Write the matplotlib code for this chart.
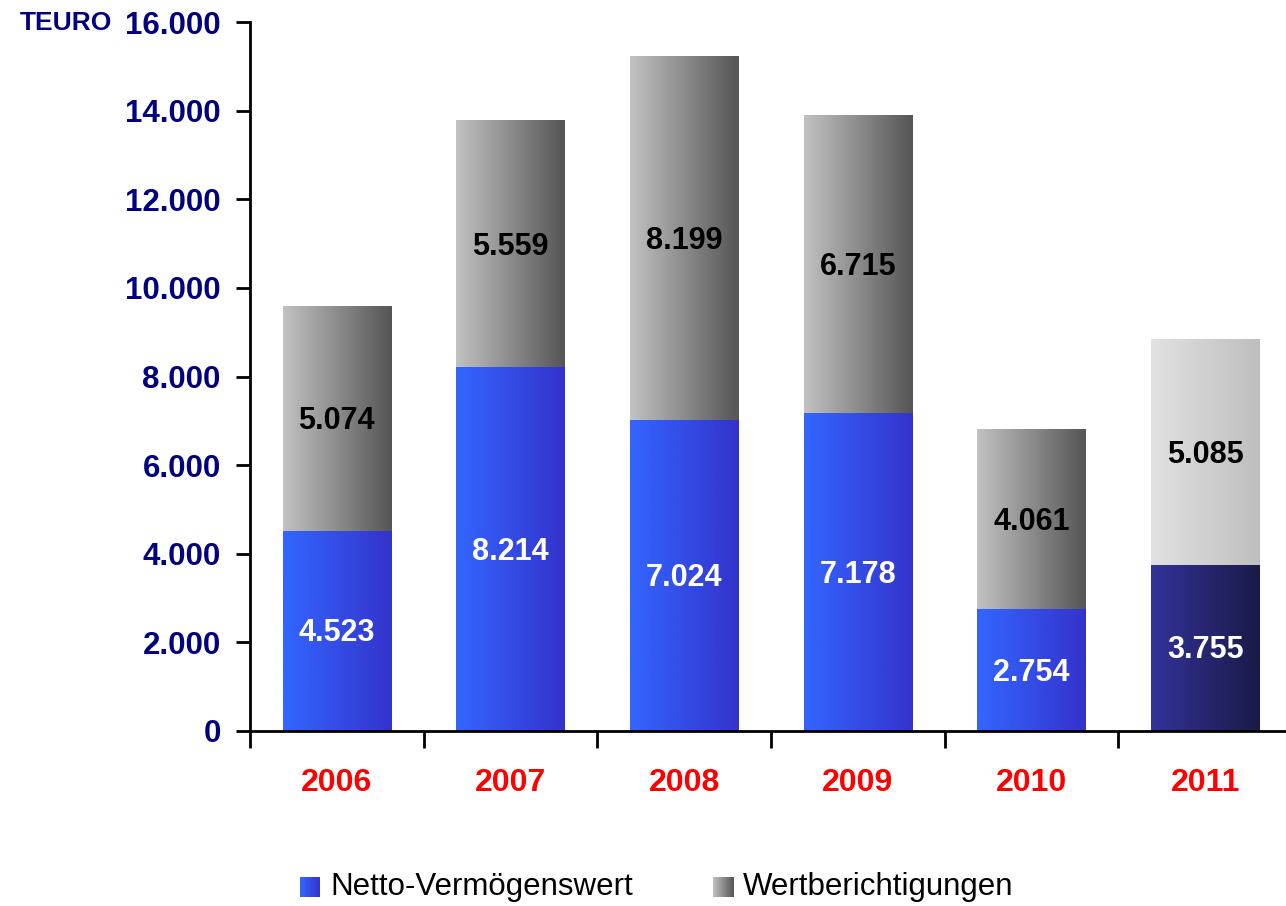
import numpy as np
import matplotlib
matplotlib.use("Agg")
import matplotlib.pyplot as plt
from matplotlib.colors import LinearSegmentedColormap

years = ["2006", "2007", "2008", "2009", "2010", "2011"]
netto = [4523, 8214, 7024, 7178, 2754, 3755]
wertb = [5074, 5559, 8199, 6715, 4061, 5085]
yticks = [0, 2000, 4000, 6000, 8000, 10000, 12000, 14000, 16000]
ytick_labels = ["0", "2.000", "4.000", "6.000", "8.000", "10.000", "12.000", "14.000", "16.000"]

NAVY = "#000080"
FONT = ["Liberation Sans", "DejaVu Sans"]

blue = LinearSegmentedColormap.from_list("blue", ["#3366FF", "#3333CC"])
gray = LinearSegmentedColormap.from_list("gray", ["#C2C2C2", "#555555"])
navy = LinearSegmentedColormap.from_list("navy", ["#333399", "#1A1A48"])
lgray = LinearSegmentedColormap.from_list("lgray", ["#E2E2E2", "#BEBEBE"])
grad = np.linspace(0, 1, 256).reshape(1, -1)


def fmt(v):
    return f"{v:,}".replace(",", ".")


fig = plt.figure(figsize=(12.86, 9.06), dpi=100)
ax = fig.add_axes([250 / 1286, 1 - 731 / 906, 1042 / 1286, 709 / 906])

width = 108 / 173.6
for i, (n, w) in enumerate(zip(netto, wertb)):
    x0, x1 = i - width / 2, i + width / 2
    cb, cg = (navy, lgray) if i == 5 else (blue, gray)
    ax.imshow(grad, cmap=cb, extent=[x0, x1, 0, n], aspect="auto", zorder=2)
    ax.imshow(grad, cmap=cg, extent=[x0, x1, n, n + w], aspect="auto", zorder=2)
    ax.text(i, n / 2 - 60, fmt(n), ha="center", va="center", color="white",
            fontsize=22, fontweight="bold", family=FONT, zorder=3)
    ax.text(i, n + w / 2 - 60, fmt(w), ha="center", va="center", color="black",
            fontsize=22, fontweight="bold", family=FONT, zorder=3)

ax.set_xlim(-0.5, 5.5)
ax.set_ylim(0, 16000)

for s in ["top", "right"]:
    ax.spines[s].set_visible(False)
for s in ["left", "bottom"]:
    ax.spines[s].set_linewidth(2)

ax.set_yticks(yticks)
ax.set_yticklabels(ytick_labels, color=NAVY, fontsize=22.5, fontweight="bold", family=FONT)
ax.tick_params(axis="y", length=10, width=2, pad=11)

ax.set_xticks(np.arange(-0.5, 6, 1.0))
ax.set_xticklabels([])
ax.tick_params(axis="x", length=12, width=2)
for i, y in enumerate(years):
    ax.text(i, -1170, y, ha="center", va="center", color="#FF0000",
            fontsize=23, fontweight="bold", family=FONT)

fig.text(20 / 1286, 1 - 23 / 906, "TEURO", ha="left", va="center", color=NAVY,
         fontsize=19, fontweight="bold", family=FONT)

# legend
for x, cm, label in [(300, blue, "Netto-Vermögenswert"), (713, gray, "Wertberichtigungen")]:
    lax = fig.add_axes([x / 1286, 1 - 897 / 906, 20 / 1286, 20 / 906])
    lax.imshow(grad, cmap=cm, aspect="auto")
    lax.axis("off")
    fig.text((x + 30) / 1286, 1 - 887 / 906, label, ha="left", va="center",
             color="black", fontsize=22.5, family=FONT)

fig.savefig("out.png", dpi=100)
